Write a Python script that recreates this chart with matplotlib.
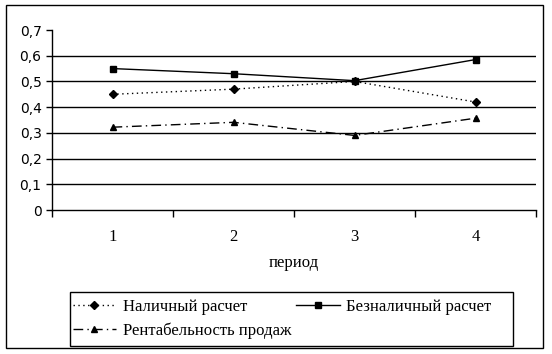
import matplotlib.pyplot as plt
from matplotlib.patches import Rectangle
from matplotlib.ticker import FuncFormatter, FixedLocator, NullFormatter

# Data
periods = [1, 2, 3, 4]
cash = [0.45, 0.47, 0.50, 0.42]
noncash = [0.55, 0.53, 0.503, 0.585]
profitability = [0.322, 0.341, 0.29, 0.357]

serif = ['Liberation Serif', 'DejaVu Serif']
W, H = 552, 354

fig = plt.figure(figsize=(5.52, 3.54), dpi=100)
ax = fig.add_axes([52 / W, 1 - 210 / H, 484 / W, 180 / H])

l_cash, = ax.plot(periods, cash, color='black', lw=1, ls=(0, (1, 2.5)),
                  marker='D', ms=4, label='Наличный расчет')
l_noncash, = ax.plot(periods, noncash, color='black', lw=1, ls='-',
                     marker='s', ms=4.5, label='Безналичный расчет')
l_prof, = ax.plot(periods, profitability, color='black', lw=1, ls=(0, (7, 3, 1, 3)),
                  marker='^', ms=5, label='Рентабельность продаж')

# Axes
ax.set_xlim(0.5, 4.5)
ax.set_ylim(0, 0.7)
ax.set_yticks([0, 0.1, 0.2, 0.3, 0.4, 0.5, 0.6, 0.7])
ax.yaxis.set_major_formatter(FuncFormatter(lambda v, p: ('%.1f' % v).replace('.', ',') if v > 0 else '0'))
for v in [0.1, 0.2, 0.3, 0.4, 0.5, 0.6]:
    ax.axhline(v, color='black', lw=1, zorder=0)

ax.set_xticks(periods)
ax.set_xticklabels([str(p) for p in periods], family=serif, fontsize=12)
ax.tick_params(axis='x', which='major', length=0, pad=14)
ax.xaxis.set_minor_locator(FixedLocator([0.5, 1.5, 2.5, 3.5, 4.5]))
ax.xaxis.set_minor_formatter(NullFormatter())
ax.tick_params(axis='x', which='minor', length=5, width=1, direction='out')
ax.tick_params(axis='y', length=4, width=1, direction='out', labelsize=10)

for s in ['top', 'right']:
    ax.spines[s].set_visible(False)
for s in ['left', 'bottom']:
    ax.spines[s].set_linewidth(1)

ax.set_xlabel('период', family=serif, fontsize=12, labelpad=7)

# Legend in row order, box drawn separately
leg = fig.legend(handles=[l_cash, l_prof, l_noncash],
                 labels=[l_cash.get_label(), l_prof.get_label(), l_noncash.get_label()],
                 ncol=2, loc='upper left', bbox_to_anchor=(71 / W, 1 - 297 / H),
                 prop={'family': serif, 'size': 12}, frameon=False,
                 handlelength=2.6, handletextpad=0.4, columnspacing=0.3,
                 labelspacing=0.45, borderpad=0.1, borderaxespad=0)
fig.patches.append(Rectangle((70 / W, 1 - 346 / H), 443 / W, 54 / H,
                             transform=fig.transFigure, fill=False, edgecolor='black', lw=1))

# Outer chart border
fig.patches.append(Rectangle((6 / W, 1 - 348 / H), 537 / W, 343 / H,
                             transform=fig.transFigure, fill=False, edgecolor='black', lw=1))

fig.savefig('out.png', dpi=100)
